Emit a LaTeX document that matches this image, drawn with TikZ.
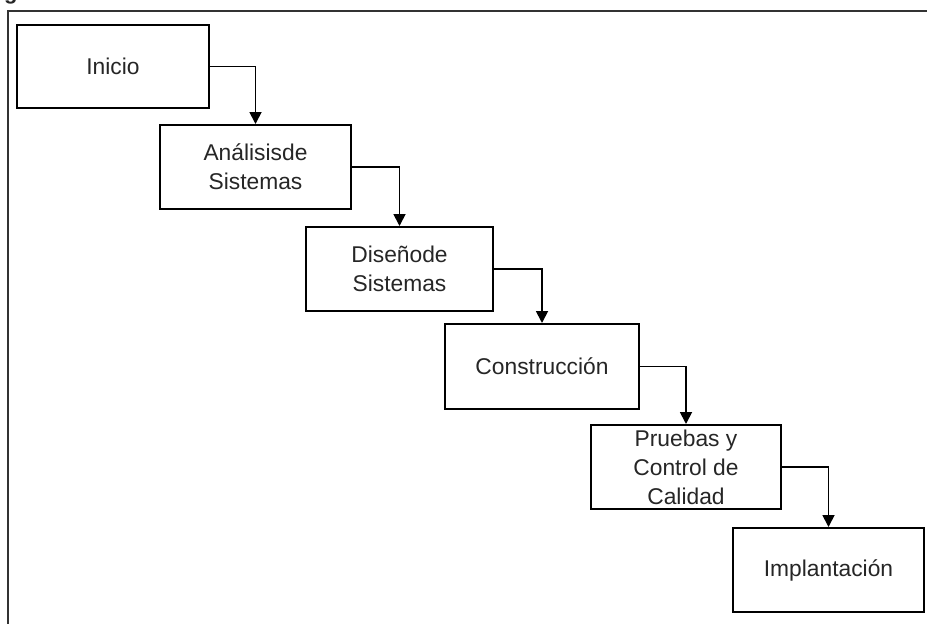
\documentclass[tikz,border=0pt]{standalone}
\usepackage{fontspec}
\setmainfont{Liberation Sans}
\usetikzlibrary{arrows.meta}
\begin{document}
\begin{tikzpicture}[x=1pt,y=-1pt,
  stage/.style={draw=black, line width=2pt, fill=white, minimum width=191pt,
    minimum height=84pt, inner sep=0pt, align=center, text=black!85,
    font=\fontsize{22.8}{29}\selectfont},
  flow/.style={draw=black, line width=1.8pt,
    -{Triangle[width=12pt,length=12pt]}},
  frameline/.style={draw=black!80, line width=2.4pt}]
  \useasboundingbox (0,0) rectangle (927,624);
  \fill[white] (0,0) rectangle (927,624);

  % caption fragment above the frame
  \node[anchor=base west, inner sep=0pt, font=\bfseries\fontsize{22}{26}\selectfont, text=black!85]
    (cap) at (4,-1) {g};

  % frame (top and left sides)
  \coordinate (fTL) at (8,11);
  \coordinate (fTR) at (927,11);
  \coordinate (fBL) at (8,624);
  \draw[frameline] (fTR) -- (fTL) -- (fBL);

  % stages of the process
  \node[stage, minimum width=192pt, minimum height=83pt] (ini) at (113,66.5) {Inicio};
  \node[stage] (ana) at (255.5,167) {Análisisde\\Sistemas};
  \node[stage, minimum width=187pt] (dis) at (399.5,269) {Diseñode\\Sistemas};
  \node[stage, minimum width=194pt, minimum height=85pt] (con) at (542,366.5) {Construcción};
  \node[stage, minimum width=190pt] (pru) at (686,467) {Pruebas y\\Control de\\Calidad};
  \node[stage] (imp) at (828.5,570) {Implantación};

  % connectors
  \draw[flow] (ini.east) -| (ana.north);
  \draw[flow] (ana.east) -| (dis.north);
  \draw[flow] (dis.east) -| (con.north);
  \draw[flow] (con.east) -| (pru.north);
  \draw[flow] (pru.east) -| (imp.north);
\end{tikzpicture}
\end{document}
